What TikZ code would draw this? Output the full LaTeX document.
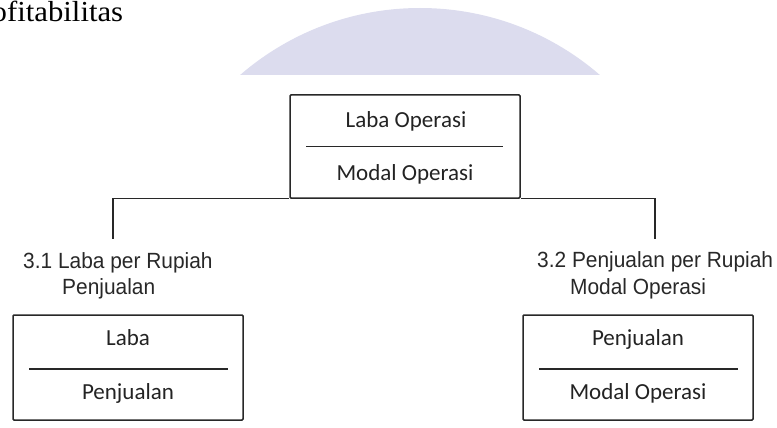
\documentclass[tikz,border=0pt]{standalone}
\usepackage{fontspec}
\setmainfont{Carlito}
\newfontfamily\labelfont[FakeStretch=0.95]{Liberation Sans}
\newfontfamily\headfont[FakeStretch=1.06]{Liberation Serif}
\definecolor{wmark}{RGB}{220,220,238}
\definecolor{linegray}{RGB}{40,40,40}
\definecolor{textgray}{RGB}{35,35,35}
\definecolor{labgray}{RGB}{40,40,40}
\begin{document}
\begin{tikzpicture}[x=1pt,y=-1pt,
  fracbox/.style={draw=linegray, line width=1.5pt, inner sep=0pt, minimum width=230pt, rounded corners=1pt},
  fractext/.style={anchor=base, inner sep=0pt, text=textgray, font=\fontsize{23}{27}\selectfont},
  fracline/.style={draw=linegray, line width=1.3pt},
  conn/.style={draw=linegray, line width=1.4pt},
  ratiolabel/.style={anchor=base west, inner sep=0pt, align=left, text=labgray, font=\labelfont\fontsize{22}{26.5}\selectfont}
]
\useasboundingbox (0,0) rectangle (777,428);
% watermark
\begin{scope}
  \clip (0,0) rectangle (777,75);
  \fill[wmark] (420,283) circle[radius=275];
\end{scope}
% heading fragment
\node[anchor=base west, inner sep=0pt, font=\headfont\fontsize{29}{34}\selectfont] (head) at (-8.5,22) {ofitabilitas};
% top box
\node[fracbox, minimum height=103pt] (top) at (405,146.5) {};
\node[fractext] (topnum) at (406,127) {Laba Operasi};
\node[fractext] (topden) at (405,180) {Modal Operasi};
\draw[fracline] ([xshift=17pt]top.west) -- ([xshift=-18pt]top.east);
% left box
\node[fracbox, minimum height=105pt] (left) at (128,367.5) {};
\node[fractext] (leftnum) at (128,345) {Laba};
\node[fractext] (leftden) at (128,399) {Penjualan};
\draw[fracline] ([xshift=17pt,yshift=-1.5pt]left.west) -- ([xshift=-16pt,yshift=-1.5pt]left.east);
% right box
\node[fracbox, minimum height=105pt] (right) at (638,367.5) {};
\node[fractext] (rightnum) at (638,345) {Penjualan};
\node[fractext] (rightden) at (638,399) {Modal Operasi};
\draw[fracline] ([xshift=17pt,yshift=-1.5pt]right.west) -- ([xshift=-16pt,yshift=-1.5pt]right.east);
% labels (base anchor = last line)
\node[ratiolabel] (lab1) at (23,294.5) {3.1 Laba per Rupiah\\\hspace*{39pt}Penjualan};
\node[ratiolabel] (lab2) at (537,294) {3.2 Penjualan per Rupiah\\\hspace*{33pt}Modal Operasi};
% connectors
\coordinate (dl) at (113,239);
\coordinate (dr) at (655,239);
\draw[conn] (top.south west) -| (dl);
\draw[conn] (top.south east) -| (dr);
\end{tikzpicture}
\end{document}
